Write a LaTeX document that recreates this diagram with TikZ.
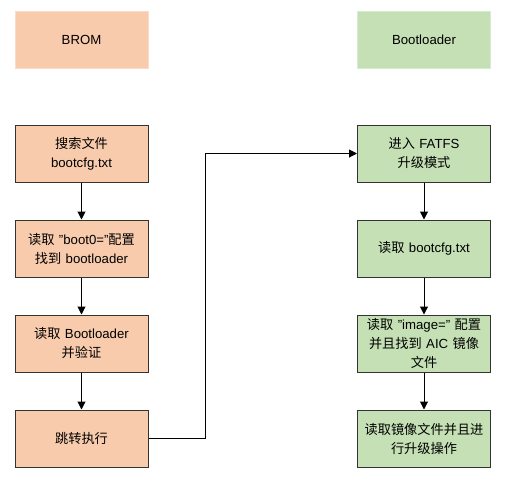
\documentclass[tikz,border=0pt]{standalone}
\usepackage{fontspec}
\setmainfont{Liberation Sans}
\newfontfamily\cjk{Noto Sans CJK SC}
\newcommand{\zh}[1]{{\cjk #1}}
\usetikzlibrary{arrows.meta}
\definecolor{orfill}{HTML}{F8CBAD}
\definecolor{grfill}{HTML}{C5E0B4}
\definecolor{orline}{HTML}{FBDCC8}
\definecolor{grline}{HTML}{D8EBCC}
\definecolor{boxline}{HTML}{333333}
\begin{document}
\begin{tikzpicture}[x=1pt,y=-1pt,
  every node/.style={font=\fontsize{13.2}{19}\selectfont, text=black, align=center, inner sep=0pt},
  hdr/.style={minimum width=133pt, minimum height=57pt, line width=1pt},
  stepbox/.style={draw=boxline, line width=1pt, minimum width=133pt, minimum height=57pt, text width=130pt},
  orbox/.style={stepbox, fill=orfill},
  grbox/.style={stepbox, fill=grfill},
  arr/.style={draw=black, line width=1pt, -{Triangle[length=8pt,width=8pt]}}]
\useasboundingbox (0,0) rectangle (512,480);
\fill[white] (0,0) rectangle (512,480);
\node[hdr, fill=orfill, draw=orline] (brom) at (81.5,39.5) {BROM};
\node[hdr, fill=grfill, draw=grline] (bl) at (424,39.5) {Bootloader};
\node[orbox] (l1) at (81.5,153.5) {\zh{搜索文件}\\bootcfg.txt};
\node[orbox] (l2) at (81.5,248.5) {\zh{读取} "boot0="\zh{配置}\\\zh{找到} bootloader};
\node[orbox] (l3) at (81.5,343.5) {\zh{读取} Bootloader\\\zh{并验证}};
\node[orbox] (l4) at (81.5,438.5) {\zh{跳转执行}};
\node[grbox] (r1) at (424,153.5) {\zh{进入} FATFS\\\zh{升级模式}};
\node[grbox] (r2) at (424,248.5) {\zh{读取} bootcfg.txt};
\node[grbox] (r3) at (424,343.5) {\zh{读取} "image=" \zh{配置}\\\zh{并且找到} AIC \zh{镜像}\\\zh{文件}};
\node[grbox] (r4) at (424,438.5) {\zh{读取镜像文件并且进}\\\zh{行升级操作}};
\coordinate (j) at (205,153.5);
\draw[arr] (l1) -- (l2);
\draw[arr] (l2) -- (l3);
\draw[arr] (l3) -- (l4);
\draw[arr] (r1) -- (r2);
\draw[arr] (r2) -- (r3);
\draw[arr] (r3) -- (r4);
\draw[arr] (l4.east) -| (j) -- (r1.west);
\end{tikzpicture}
\end{document}
